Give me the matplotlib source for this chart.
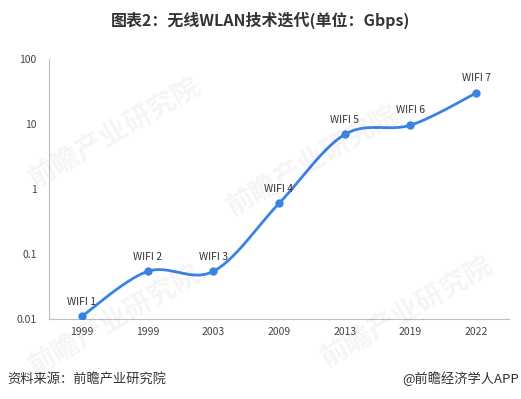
import numpy as np
import matplotlib.pyplot as plt

plt.rcParams['font.family'] = ['Noto Sans CJK SC', 'DejaVu Sans']

years = ['1999', '1999', '2003', '2009', '2013', '2019', '2022']
names = ['WIFI 1', 'WIFI 2', 'WIFI 3', 'WIFI 4', 'WIFI 5', 'WIFI 6', 'WIFI 7']
speed = [0.011, 0.054, 0.054, 0.6, 6.9, 9.6, 30]

blue = '#3b82e6'

fig = plt.figure(figsize=(5.21, 3.99), dpi=100)
ax = fig.add_axes([49 / 521, 1 - 319 / 399, 460 / 521, 260 / 399])

# smooth curve like Excel (Catmull-Rom in log space)
x = np.arange(len(speed), dtype=float)
ly = np.log10(speed)
px = np.concatenate([[x[0]], x, [x[-1]]])
py = np.concatenate([[ly[0]], ly, [ly[-1]]])
cx, cy = [], []
t = np.linspace(0, 1, 40)
for i in range(1, len(px) - 2):
    p0, p1, p2, p3 = (np.array([px[j], py[j]]) for j in range(i - 1, i + 3))
    c1 = p1 + (p2 - p0) / 6
    c2 = p2 - (p3 - p1) / 6
    pts = ((1 - t) ** 3)[:, None] * p1 + (3 * (1 - t) ** 2 * t)[:, None] * c1 \
        + (3 * (1 - t) * t ** 2)[:, None] * c2 + (t ** 3)[:, None] * p2
    cx.extend(pts[:, 0])
    cy.extend(pts[:, 1])
ax.plot(cx, 10 ** np.array(cy), color=blue, lw=2, zorder=3)
ax.plot(x, speed, 'o', color=blue, ms=5, zorder=4)

for i, (n, v) in enumerate(zip(names, speed)):
    ax.annotate(n, (i, v), xytext=(0, 7), textcoords='offset points',
                ha='center', va='bottom', fontsize=7.5, color='#333333')

ax.set_yscale('log')
ax.set_ylim(0.01, 100)
ax.set_xlim(-0.5, len(speed) - 0.5)
ax.set_yticks([0.01, 0.1, 1, 10, 100])
ax.set_yticklabels(['0.01', '0.1', '1', '10', '100'])
ax.minorticks_off()
ax.set_xticks(x)
ax.set_xticklabels(years)
ax.tick_params(length=0, labelsize=7.5, colors='#444444', pad=6)
ax.tick_params(axis='y', pad=9)
for s in ['top', 'right']:
    ax.spines[s].set_visible(False)
for s in ['left', 'bottom']:
    ax.spines[s].set_color('#bfbfbf')

# faint watermarks
for wx, wy in [(0.22, 0.67), (0.6, 0.6), (0.22, 0.2), (0.78, 0.22)]:
    fig.text(wx, wy, '前瞻产业研究院', fontsize=20, color='#000000', alpha=0.045,
             rotation=30, ha='center', va='center', fontweight='bold')

fig.text(0.5, 1 - 20 / 399, '图表2：无线WLAN技术迭代(单位：Gbps)', ha='center', va='center',
         fontsize=11.5, fontweight='bold', color='#333333')
fig.text(7 / 521, 1 - 379 / 399, '资料来源：前瞻产业研究院', ha='left', va='center',
         fontsize=9.5, color='#333333')
fig.text(519 / 521, 1 - 379 / 399, '@前瞻经济学人APP', ha='right', va='center',
         fontsize=9.5, color='#333333')

fig.savefig('out.png', dpi=100)
